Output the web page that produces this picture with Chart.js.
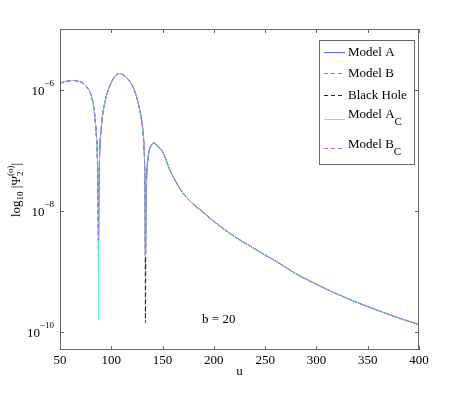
<!DOCTYPE html>
<html>
<head>
<meta charset="utf-8">
<script src="https://cdn.jsdelivr.net/npm/chart.js@4.4.1/dist/chart.umd.min.js"></script>
<style>
  body { margin: 0; background: #fff; }
  #wrap { width: 463px; height: 394px; }
</style>
</head>
<body>
<div id="wrap"><canvas id="psiChart" width="463" height="394"></canvas></div>
<script>
// retarded time u and log10 |Psi_2| (null = bottom of a dip, set per series)
const uValues = [50, 56, 62.7, 68, 72.4, 76, 79, 82.2, 84.8, 86.5, 87.2, 87.5, 87.9, 88.5, 90.4, 93.6, 98.5, 103, 107.6, 113, 118, 121.5, 124.5, 127.2, 129.4, 131.7, 132.6, 133.0, 133.3, 133.8, 134.9, 136.8, 139, 141.6, 145, 150.5, 157, 163.6, 170, 178, 186.3, 202.6, 218.8, 235, 250, 265, 280, 297, 313, 329, 345, 362, 380, 400];
const log10Psi = [-5.88, -5.85, -5.835, -5.85, -5.88, -5.94, -6.02, -6.21, -6.59, -7.15, -7.8, null, -7.8, -7.15, -6.59, -6.21, -5.93, -5.78, -5.72, -5.76, -5.85, -5.95, -6.10, -6.28, -6.48, -6.87, -7.31, -7.9, null, -7.9, -7.31, -7.01, -6.91, -6.87, -6.92, -7.03, -7.31, -7.53, -7.70, -7.85, -7.97, -8.20, -8.40, -8.57, -8.72, -8.87, -9.03, -9.18, -9.31, -9.43, -9.54, -9.65, -9.76, -9.87];

const seriesNames = ['Model A', 'Model B', 'Black Hole', 'Model A', 'Model B'];
const seriesSubs = ['', '', '', 'C', 'C'];
const seriesColors = ['#5468ff', '#ff5a5a', '#222222', '#5cf5dc', '#c25cff'];
const seriesDashed = [false, true, true, false, true];
// depth of the two dips (log10) for each series
const firstDipLog = [-8.5, -8.9, -8.63, -9.79, -8.47];
const secondDipLog = [-8.75, -8.96, -9.84, -8.75, -8.7];

const yTickValues = [1e-10, 1e-8, 1e-6];
const yTickExps = ['\u221210', '\u22128', '\u22126'];
const annotation = { u: 188.5, y: Math.pow(10, -9.79), text: 'b = 20' };

const serif = '"Liberation Serif", "Times New Roman", serif';

function buildSeries(i) {
    let dip = 0;
    return uValues.map((u, k) => {
        let v = log10Psi[k];
        if (v === null) {
            v = dip === 0 ? firstDipLog[i] : secondDipLog[i];
            dip++;
        }
        return { x: u, y: Math.pow(10, v) };
    });
}

const datasets = seriesNames.map((name, i) => ({
    label: name + seriesSubs[i],
    data: buildSeries(i),
    borderColor: seriesColors[i],
    borderWidth: 1,
    borderDash: seriesDashed[i] ? [4, 3] : [],
    pointRadius: 0,
    fill: false,
    cubicInterpolationMode: 'monotone',
    order: seriesNames.length - i
}));

const framePlugin = {
    id: 'frame',
    afterDraw(chart) {
        const ctx = chart.ctx;
        const a = chart.chartArea;
        const xs = chart.scales.x;
        const ys = chart.scales.y;
        ctx.save();
        // axes box
        ctx.strokeStyle = '#666';
        ctx.lineWidth = 1;
        ctx.strokeRect(a.left + 0.5, a.top + 0.5, a.right - a.left - 1, a.bottom - a.top - 1);
        // inward ticks
        ctx.beginPath();
        xs.ticks.forEach(t => {
            const px = Math.round(xs.getPixelForValue(t.value)) + 0.5;
            ctx.moveTo(px, a.bottom); ctx.lineTo(px, a.bottom - 4);
            ctx.moveTo(px, a.top); ctx.lineTo(px, a.top + 4);
        });
        yTickValues.forEach(v => {
            const py = Math.round(ys.getPixelForValue(v)) + 0.5;
            ctx.moveTo(a.left, py); ctx.lineTo(a.left + 4, py);
            ctx.moveTo(a.right, py); ctx.lineTo(a.right - 4, py);
        });
        ctx.stroke();

        // y tick labels 10^n
        ctx.fillStyle = '#000';
        ctx.textBaseline = 'middle';
        yTickValues.forEach((v, i) => {
            const py = ys.getPixelForValue(v);
            ctx.font = '9px ' + serif;
            ctx.textAlign = 'right';
            const expW = ctx.measureText(yTickExps[i]).width;
            ctx.fillText(yTickExps[i], 54, py - 7);
            ctx.font = '13px ' + serif;
            ctx.fillText('10', 54 - expW, py + 1);
        });

        // y axis title: log10 |Psi_2^(o)|
        ctx.translate(17, 190);
        ctx.rotate(-Math.PI / 2);
        ctx.textAlign = 'left';
        const parts = [
            { t: 'log', size: 13, dy: 0 },
            { t: '10', size: 9, dy: 4 },
            { t: ' |\u03A8', size: 13, dy: 0 },
            { t: '2', size: 9, dy: 4, back: true },
            { t: '(o)', size: 9, dy: -6 },
            { t: '|', size: 13, dy: 0 }
        ];
        let total = 0;
        parts.forEach(p => { ctx.font = p.size + 'px ' + serif; p.w = ctx.measureText(p.t).width; });
        total = parts.reduce((s, p) => s + (p.back ? 0 : p.w), 0);
        let x = -total / 2;
        parts.forEach(p => {
            ctx.font = p.size + 'px ' + serif;
            ctx.fillText(p.t, x, p.dy);
            if (!p.back) x += p.w;
        });
        ctx.restore();

        // annotation
        ctx.save();
        ctx.fillStyle = '#000';
        ctx.font = '13px ' + serif;
        ctx.textBaseline = 'middle';
        ctx.textAlign = 'left';
        ctx.fillText(annotation.text, xs.getPixelForValue(annotation.u), ys.getPixelForValue(annotation.y));
        ctx.restore();

        // legend box
        ctx.save();
        const box = { x: 319.5, y: 40.5, w: 95, h: 124 };
        ctx.fillStyle = '#fff';
        ctx.fillRect(box.x, box.y, box.w, box.h);
        ctx.strokeStyle = '#666';
        ctx.lineWidth = 1;
        ctx.strokeRect(box.x, box.y, box.w, box.h);
        const lineY = [52.5, 73.5, 95.5, 119.5, 148.5];
        const textY = [53, 74, 96, 115, 145];
        seriesNames.forEach((name, i) => {
            ctx.strokeStyle = seriesColors[i];
            ctx.setLineDash(seriesDashed[i] ? [4, 3] : []);
            ctx.beginPath();
            ctx.moveTo(324, lineY[i]);
            ctx.lineTo(345, lineY[i]);
            ctx.stroke();
            ctx.fillStyle = '#000';
            ctx.font = '13px ' + serif;
            ctx.textBaseline = 'middle';
            ctx.textAlign = 'left';
            ctx.fillText(name, 348, textY[i]);
            if (seriesSubs[i]) {
                const w = ctx.measureText(name).width;
                ctx.font = '11px ' + serif;
                ctx.fillText(seriesSubs[i], 348 + w, textY[i] + 7);
            }
        });
        ctx.restore();
    }
};

new Chart(document.getElementById('psiChart'), {
    type: 'line',
    data: { datasets: datasets },
    options: {
        responsive: false,
        animation: false,
        layout: { padding: { left: 0, right: 44, top: 29, bottom: 0 } },
        plugins: { legend: { display: false }, tooltip: { enabled: false } },
        scales: {
            x: {
                type: 'linear',
                min: 50,
                max: 400,
                ticks: { stepSize: 50, color: '#000', padding: 3, maxRotation: 0, font: { family: serif, size: 13 } },
                grid: { display: false, drawTicks: false },
                border: { display: false },
                title: { display: true, text: 'u', color: '#000', padding: { top: 0, bottom: 15 }, font: { family: serif, size: 13 } },
                afterFit(scale) { scale.height = 44; }
            },
            y: {
                type: 'logarithmic',
                min: 5.12e-11,
                max: 1.035e-5,
                afterBuildTicks(scale) { scale.ticks = yTickValues.map(v => ({ value: v })); },
                ticks: { display: false },
                grid: { display: false, drawTicks: false },
                border: { display: false },
                afterFit(scale) { scale.width = 60; }
            }
        }
    },
    plugins: [framePlugin]
});
</script>
</body>
</html>
